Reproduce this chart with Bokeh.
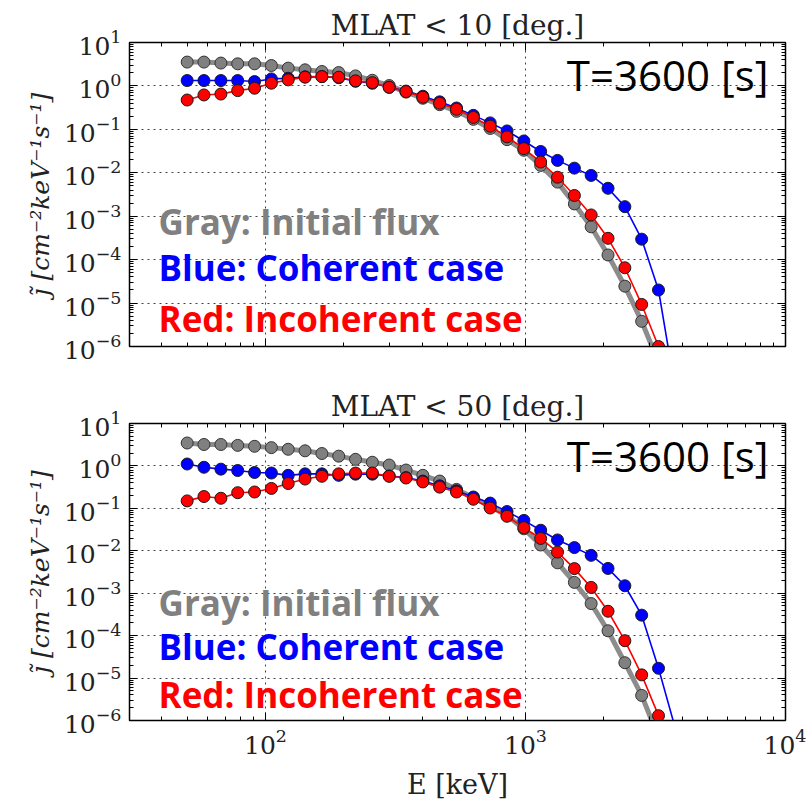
from bokeh.plotting import figure
from bokeh.models import LogAxis, FixedTicker, Label, Range1d, LogTickFormatter, CustomJSTickFormatter
from bokeh.layouts import column
from bokeh.embed import file_html
from bokeh.resources import INLINE

energy_kev = [50.0, 58.0, 67.4, 78.2, 90.8, 105.4, 122.3, 142.0, 164.8, 191.3,
              222.0, 257.7, 299.1, 347.2, 403.0, 467.8, 543.0, 630.3, 731.6, 849.2,
              985.7, 1144, 1328, 1542, 1789, 2077, 2411, 2798, 3248, 3770]

top_gray = [3.54, 3.54, 3.36, 3.23, 3.23, 2.95, 2.57, 2.35, 2.15, 2.03,
            1.70, 1.35, 1.02, 0.72, 0.52, 0.37, 0.26, 0.17, 0.105, 0.058,
            0.033, 0.0148, 0.0061, 0.00192, 5.7e-4, 1.28e-4, 2.45e-5, 3.8e-6, 4.3e-7, 2e-8]
top_blue = [1.33, 1.33, 1.33, 1.33, 1.26, 1.45, 1.5, 1.62, 1.64, 1.55,
            1.28, 1.15, 0.93, 0.76, 0.58, 0.43, 0.31, 0.21, 0.141, 0.092,
            0.054, 0.031, 0.0193, 0.0128, 0.0087, 0.0044, 0.00166, 2.96e-4, 2.0e-5, 1e-7]
top_red = [0.474, 0.62, 0.65, 0.78, 0.885, 1.155, 1.38, 1.59, 1.64, 1.59,
           1.31, 1.19, 0.93, 0.74, 0.55, 0.40, 0.29, 0.188, 0.118, 0.067,
           0.036, 0.0177, 0.0079, 0.003, 0.00107, 3.1e-4, 6.5e-5, 9.3e-6, 1.0e-6, 5e-8]

bot_gray = [3.47, 3.2, 3.2, 3.05, 2.9, 2.7, 2.47, 2.27, 1.96, 1.7,
            1.43, 1.22, 1.05, 0.8, 0.6, 0.44, 0.28, 0.18, 0.111, 0.068,
            0.033, 0.0137, 0.0052, 0.0018, 5.7e-4, 1.3e-4, 2.3e-5, 3.9e-6, 4e-7, 2e-8]
bot_blue = [1.11, 0.93, 0.84, 0.78, 0.70, 0.68, 0.60, 0.65, 0.65, 0.60,
            0.64, 0.64, 0.58, 0.53, 0.44, 0.34, 0.26, 0.185, 0.133, 0.084,
            0.052, 0.0305, 0.018, 0.0119, 0.0078, 0.00384, 0.0015, 3.04e-4, 1.7e-5, 6.5e-7]
bot_red = [0.15, 0.19, 0.173, 0.234, 0.243, 0.295, 0.385, 0.49, 0.57, 0.65,
           0.68, 0.68, 0.57, 0.52, 0.42, 0.316, 0.243, 0.164, 0.102, 0.065,
           0.035, 0.0195, 0.0093, 0.0038, 0.00137, 3.76e-4, 7.6e-5, 1.19e-5, 1.3e-6, 6e-8]

titles = ["MLAT < 10 [deg.]", "MLAT < 50 [deg.]"]
time_label = "T=3600 [s]"
legend_texts = ["Gray: Initial flux", "Blue: Coherent case", "Red: Incoherent case"]
y_label = "j\u0303 [cm\u207b\u00b2keV\u207b\u00b9s\u207b\u00b9]"
x_label = "E [keV]"

x_major = [10.0, 100.0, 1000.0, 10000.0]
x_minor = [m * d for d in [10.0, 100.0, 1000.0] for m in range(2, 10)]
y_major = [1e-6, 1e-5, 1e-4, 1e-3, 1e-2, 1e-1, 1.0, 10.0]
y_minor = [m * d for d in [1e-6, 1e-5, 1e-4, 1e-3, 1e-2, 1e-1, 1.0] for m in range(2, 10)]

SERIF = "DejaVu Serif"


def style_axis(ax, show_labels, ticks, minor):
    ax.ticker = FixedTicker(ticks=ticks, minor_ticks=minor)
    ax.major_tick_in = 8
    ax.major_tick_out = 0
    ax.minor_tick_in = 4
    ax.minor_tick_out = 0
    ax.major_tick_line_color = "black"
    ax.minor_tick_line_color = "black"
    ax.axis_line_color = "black"
    ax.major_label_text_font = SERIF
    ax.major_label_text_color = "#222222"
    ax.major_label_text_font_size = "25px"
    if show_labels:
        ax.formatter = LogTickFormatter()
        ax.major_label_standoff = 8
    else:
        ax.formatter = CustomJSTickFormatter(code="return ''")
        ax.major_label_standoff = 0


def make_panel(title, gray, blue, red, height, border_top, border_bottom, show_x_labels,
               y_gray, y_blue, y_red, y_time):
    p = figure(width=806, height=height, x_axis_type="log", y_axis_type="log",
               x_range=Range1d(30, 1e4), y_range=Range1d(1e-6, 10),
               output_backend="svg", toolbar_location=None,
               min_border_left=129, min_border_right=21,
               min_border_top=border_top, min_border_bottom=border_bottom)
    p.title.text = title
    p.title.align = "center"
    p.title.text_font = SERIF
    p.title.text_font_style = "normal"
    p.title.text_font_size = "28px"
    p.title.text_color = "#222222"
    p.title.standoff = 2

    style_axis(p.below[0], show_x_labels, x_major, x_minor)
    style_axis(p.left[0], True, y_major, y_minor)
    top_ax = LogAxis()
    style_axis(top_ax, False, x_major, x_minor)
    right_ax = LogAxis()
    style_axis(right_ax, False, y_major, y_minor)
    p.add_layout(top_ax, "above")
    p.add_layout(right_ax, "right")

    p.left[0].axis_label = y_label
    p.left[0].axis_label_text_font = SERIF
    p.left[0].axis_label_text_font_style = "italic"
    p.left[0].axis_label_text_font_size = "25px"
    p.left[0].axis_label_text_color = "#222222"
    p.left[0].axis_label_standoff = 6
    if show_x_labels:
        p.below[0].axis_label = x_label
        p.below[0].axis_label_text_font = SERIF
        p.below[0].axis_label_text_font_style = "normal"
        p.below[0].axis_label_text_font_size = "27px"
        p.below[0].axis_label_text_color = "#222222"
        p.below[0].axis_label_standoff = 12

    for g in (p.xgrid, p.ygrid):
        g.grid_line_color = "#444444"
        g.grid_line_dash = "2 4"
        g.grid_line_width = 1
    p.outline_line_color = "black"
    p.outline_line_width = 1.5

    p.line(energy_kev, gray, line_width=5, color="#8c8c8c")
    p.scatter(energy_kev, gray, size=12, fill_color="#808080", line_color="#333333", line_width=1)
    p.line(energy_kev, blue, line_width=1.6, color="#0000ff")
    p.scatter(energy_kev, blue, size=12, fill_color="#0000ff", line_color="#1a1a1a", line_width=1)
    p.line(energy_kev, red, line_width=1.6, color="#ff0000")
    p.scatter(energy_kev, red, size=12, fill_color="#ff0000", line_color="#1a1a1a", line_width=1)

    p.add_layout(Label(x=8600, y=y_time, text=time_label, text_font="Open Sans",
                       text_font_size="42px", text_color="black",
                       text_align="right", text_baseline="middle"))
    for txt, yy, col in zip(legend_texts, [y_gray, y_blue, y_red], ["#808080", "#0000ff", "#ff0000"]):
        p.add_layout(Label(x=38.8, y=yy, text=txt, text_font="Open Sans",
                           text_font_style="bold", text_font_size="35px",
                           text_color=col, text_align="left", text_baseline="middle"))
    return p


p1 = make_panel(titles[0], top_gray, top_blue, top_red, 374, 42, 28, False,
                7.5e-4, 6.5e-5, 4.5e-6, 1.8)
p2 = make_panel(titles[1], bot_gray, bot_blue, bot_red, 428, 49, 79, True,
                6.2e-4, 5.4e-5, 4.1e-6, 1.8)

layout = column(p1, p2, spacing=0)
open("out.html", "w").write(file_html(layout, INLINE))
